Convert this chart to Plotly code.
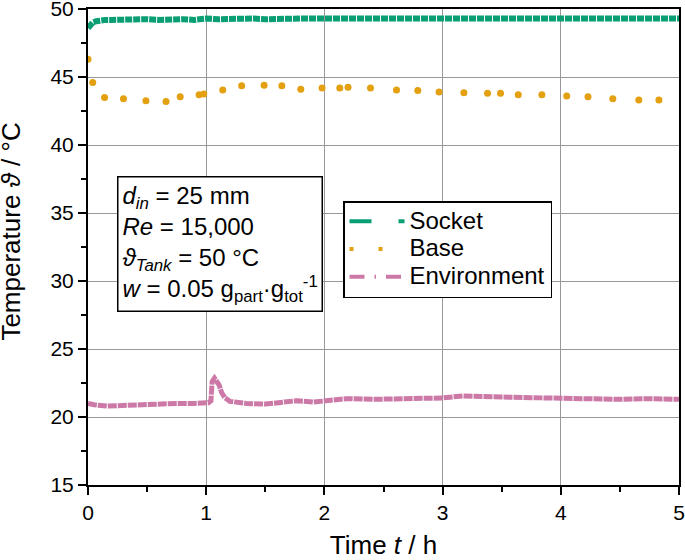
import plotly.graph_objects as go

# ---- data ----
socket_t = [0.0, 0.02, 0.04, 0.07, 0.10, 0.15, 0.20, 0.30, 0.40, 0.50, 0.60, 0.70, 0.80, 0.90, 1.00,
            1.10, 1.20, 1.30, 1.40, 1.50, 1.60, 1.70, 1.80, 1.90, 2.00, 2.10, 2.20, 2.30, 2.40, 2.50,
            2.60, 2.70, 2.80, 2.90, 3.00, 3.10, 3.20, 3.30, 3.40, 3.50, 3.60, 3.70, 3.80, 3.90, 4.00,
            4.10, 4.20, 4.30, 4.40, 4.50, 4.60, 4.70, 4.80, 4.90, 5.00]
socket_v = [48.6, 48.9, 49.0, 49.1, 49.15, 49.2, 49.2, 49.25, 49.2, 49.25, 49.2, 49.25, 49.25, 49.2, 49.3,
            49.25, 49.3, 49.3, 49.3, 49.25, 49.3, 49.3, 49.3, 49.3, 49.3, 49.3, 49.3, 49.3, 49.3, 49.3,
            49.3, 49.3, 49.3, 49.3, 49.3, 49.3, 49.3, 49.3, 49.3, 49.3, 49.3, 49.3, 49.3, 49.3, 49.3,
            49.3, 49.3, 49.3, 49.3, 49.3, 49.3, 49.3, 49.3, 49.3, 49.3]

base_t = [0.0, 0.04, 0.14, 0.30, 0.49, 0.66, 0.78, 0.94, 0.98, 1.14, 1.30, 1.49, 1.64, 1.80, 1.98,
          2.13, 2.20, 2.39, 2.61, 2.79, 2.97, 3.18, 3.38, 3.49, 3.64, 3.84, 4.05, 4.23, 4.44, 4.66, 4.83]
base_v = [46.3, 44.6, 43.5, 43.4, 43.25, 43.2, 43.55, 43.7, 43.75, 44.05, 44.35, 44.4, 44.35, 44.1, 44.2,
          44.2, 44.25, 44.2, 44.05, 44.0, 43.9, 43.85, 43.8, 43.8, 43.7, 43.7, 43.6, 43.55, 43.4, 43.3, 43.3]

env_t = [0.0, 0.05, 0.16, 0.29, 0.40, 0.47, 0.59, 0.75, 0.90, 1.02, 1.04, 1.05, 1.07, 1.09, 1.11,
         1.13, 1.16, 1.20, 1.26, 1.34, 1.50, 1.62, 1.77, 1.91, 2.05, 2.19, 2.41, 2.60, 2.80, 3.00,
         3.17, 3.40, 3.60, 3.88, 4.10, 4.30, 4.50, 4.70, 4.90, 5.00]
env_v = [21.0, 20.9, 20.8, 20.85, 20.9, 20.9, 20.95, 21.0, 21.0, 21.05, 21.2, 22.6, 22.85, 22.6, 22.35,
         21.8, 21.4, 21.15, 21.05, 21.0, 20.95, 21.05, 21.2, 21.1, 21.25, 21.35, 21.3, 21.35, 21.4, 21.4,
         21.55, 21.45, 21.45, 21.4, 21.35, 21.35, 21.3, 21.35, 21.3, 21.3]

series_names = ["Socket", "Base", "Environment"]
colors = ["#0A9E74", "#E3A010", "#CC79A7"]

FONT = "Liberation Sans, Arial, sans-serif"

fig = go.Figure()

fig.add_trace(go.Scatter(x=socket_t, y=socket_v, mode="lines",
                         line=dict(color=colors[0], width=6, dash="7px,1px"), showlegend=False))
fig.add_trace(go.Scatter(x=base_t, y=base_v, mode="markers",
                         marker=dict(color=colors[1], size=7), showlegend=False))
fig.add_trace(go.Scatter(x=env_t, y=env_v, mode="lines",
                         line=dict(color=colors[2], width=5, dash="9px,1px"), showlegend=False))

# legend-only entries with the line styles shown in the reference legend
dashes = ["22px,27px,8px,20px", "4px,25px", "15px,10px,1.5px,10px"]
for name, c, d in zip(series_names, colors, dashes):
    fig.add_trace(go.Scatter(x=[None], y=[None], mode="lines",
                             name=f"<span style='font-size:24px'>{name}</span>",
                             line=dict(color=c, width=4, dash=d)))

fig.add_annotation(
    xref="paper", yref="paper", x=0.049, y=0.649, xanchor="left", yanchor="top",
    text=("<i>d</i><sub><i>in</i></sub> = 25 mm<br><i>Re</i> = 15,000<br>"
          "<i>ϑ</i><sub><i>Tank</i></sub> = 50 °C<br>"
          "<i>w</i> = 0.05 g<sub>part</sub>·g<sub>tot</sub><sup>-1</sup>"),
    showarrow=False, align="left", bordercolor="black", borderwidth=1.5, borderpad=4,
    bgcolor="white", font=dict(size=24, color="black", family=FONT))

# y-axis title (placed as in the reference, slightly above the axis centre)
fig.add_annotation(
    xref="paper", yref="paper", x=-0.131, y=0.5315, xanchor="center", yanchor="middle",
    text="Temperature <i>ϑ</i> / °C", textangle=-90, showarrow=False,
    font=dict(size=26, color="black", family=FONT))

fig.update_layout(
    width=685, height=560,
    margin=dict(l=88, r=6, t=9, b=75),
    paper_bgcolor="white", plot_bgcolor="white",
    font=dict(family=FONT, size=21, color="black"),
    legend=dict(x=0.4315, y=0.5966, xanchor="left", yanchor="top",
                bordercolor="black", borderwidth=1.5, bgcolor="white",
                font=dict(size=19), tracegroupgap=0, itemwidth=55),
    xaxis=dict(range=[0, 5], dtick=1, tick0=0, showline=True, linecolor="black", linewidth=2,
               mirror=True, ticks="outside", ticklen=8, tickwidth=2, tickcolor="black",
               showgrid=True, gridcolor="#999999", gridwidth=1, zeroline=False, automargin=False,
               tickfont=dict(size=21), ticklabeloverflow="allow",
               minor=dict(dtick=0.5, ticks="outside", ticklen=5, tickwidth=2, tickcolor="black", showgrid=False),
               title=dict(text="Time <i>t</i> / h", font=dict(size=26), standoff=29)),
    yaxis=dict(range=[15, 50], dtick=5, tick0=15, showline=True, linecolor="black", linewidth=2,
               mirror=True, ticks="outside", ticklen=8, tickwidth=2, tickcolor="black",
               showgrid=True, gridcolor="#999999", gridwidth=1, zeroline=False, automargin=False,
               tickfont=dict(size=21), ticklabeloverflow="allow",
               minor=dict(dtick=2.5, ticks="outside", ticklen=5, tickwidth=2, tickcolor="black", showgrid=False)),
)

fig.write_html("out.html", config={"displayModeBar": False},
               post_script="document.body.style.margin='0px';")
